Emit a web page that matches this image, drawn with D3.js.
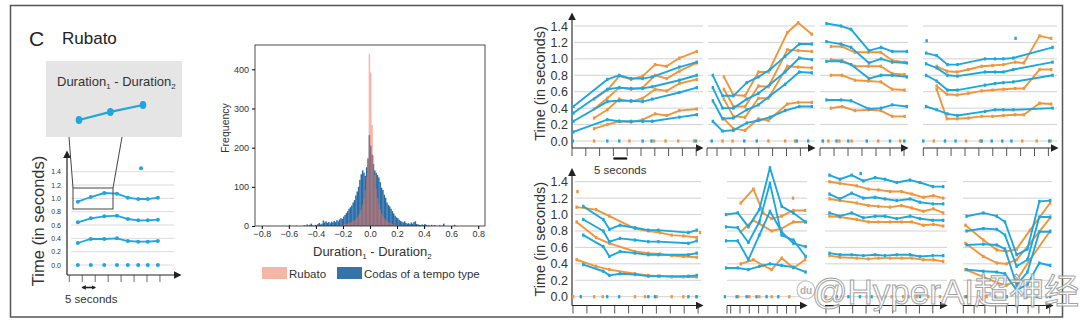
<!DOCTYPE html>
<html>
<head>
<meta charset="utf-8">
<script src="https://cdn.jsdelivr.net/npm/d3@7"></script>
<style>
  body { margin: 0; background: #fff; }
  svg { display: block; font-family: "Liberation Sans", Arial, sans-serif; }
</style>
</head>
<body>
<svg id="fig" width="1080" height="324"></svg>
<script>
// ---------- shared ----------
const yTicks = [0, 0.2, 0.4, 0.6, 0.8, 1.0, 1.2, 1.4];
const yTickLabels = ["0.0", "0.2", "0.4", "0.6", "0.8", "1.0", "1.2", "1.4"];

// ---------- rubato example (seconds / inter-onset durations) ----------
const rubatoTimes = [3.3, 8.3, 13.5, 18.4, 22.6, 26.6, 30.3, 34.2];
const rubatoTop = [0.95, 1.02, 1.08, 1.07, 1.01, 0.99, 0.99, 1.01];
const rubatoMid = [0.64, 0.70, 0.73, 0.74, 0.69, 0.67, 0.67, 0.68];
const rubatoLow = [0.33, 0.39, 0.39, 0.40, 0.36, 0.35, 0.35, 0.36];
const rubatoOutlierT = [27.7];
const rubatoOutlierV = [1.45];

// ---------- histogram of Duration1 - Duration2 ----------
const binStart = -0.62;
const binWidth = 0.01;
const codasCounts = [
  0, 0, 3, 0, 0, 0, 0, 1, 0, 0, 0, 0,                 // -0.62 .. -0.51
  0, 2, 0, 4, 1, 3, 6, 2, 0, 3,                       // -0.50 .. -0.41
  2, 5, 8, 4, 6, 14, 9, 12, 8, 10,                    // -0.40 .. -0.31
  7, 11, 9, 13, 10, 15, 12, 17, 20, 18,               // -0.30 .. -0.21
  24, 28, 33, 38, 44, 48, 52, 60, 66, 78,             // -0.20 .. -0.11
  88, 100, 118, 132, 142, 136, 128, 150, 172, 232,    // -0.10 .. -0.01
  205, 182, 158, 142, 136, 130, 124, 112, 98, 92,     //  0.00 ..  0.09
  80, 72, 60, 54, 50, 44, 38, 32, 26, 22,             //  0.10 ..  0.19
  20, 16, 13, 11, 9, 12, 8, 6, 7, 5,                  //  0.20 ..  0.29
  9, 6, 10, 12, 5, 4, 3, 2, 4, 2,                     //  0.30 ..  0.39
  5, 3, 1, 2, 0, 3, 0, 2, 1, 0,                       //  0.40 ..  0.49
  0, 2, 0, 1, 6, 0, 0, 0, 0, 0,                       //  0.50 ..  0.59
  0, 0, 3, 0, 0                                       //  0.60 ..  0.64
];
const rubatoCounts = [
  0, 0, 0, 0, 0, 0, 0, 0, 0, 0, 0, 0,
  0, 0, 0, 0, 0, 2, 0, 3, 0, 0,
  0, 0, 0, 0, 0, 0, 0, 0, 0, 0,
  1, 0, 1, 0, 2, 1, 2, 1, 3, 2,
  4, 5, 6, 6, 8, 9, 11, 13, 15, 18,
  22, 28, 34, 42, 55, 70, 92, 125, 175, 440,
  392, 258, 180, 130, 95, 72, 55, 42, 32, 25,
  20, 16, 13, 10, 8, 7, 5, 4, 3, 3,
  2, 2, 1, 1, 0, 1, 0, 0, 0, 0,
  0, 0, 0, 0, 0, 0, 0, 0, 0, 0,
  0, 0, 0, 0, 0, 0, 0, 0, 0, 0,
  0, 0, 0, 0, 0, 0, 0, 0, 0, 0,
  0, 0, 0, 0, 0
];
const histXTicks = [-0.8, -0.6, -0.4, -0.2, 0.0, 0.2, 0.4, 0.6, 0.8];
const histYTicks = [0, 100, 200, 300, 400];
const legendLabels = ["Rubato", "Codas of a tempo type"];

// ---------- codas: row 1 ----------
const r1c1BlueT = [0.5, 12.8, 17.1, 21.4, 25.6, 29.1, 38.9, 45.2];
const r1c1Blue = [
  [0.42, 0.75, 0.80, 0.76, 0.76, 0.78, 0.90, 0.96],
  [0.34, 0.63, 0.65, 0.64, 0.64, 0.66, 0.74, 0.80],
  [0.24, 0.48, 0.49, 0.49, 0.48, 0.51, 0.59, 0.65],
  [0.11, 0.26, 0.24, 0.24, 0.24, 0.24, 0.29, 0.32]
];
const r1c1OrangeT = [8.0, 12.8, 17.1, 21.4, 25.6, 30.1, 34.3, 38.9, 45.2];
const r1c1Orange = [
  [0.51, 0.62, 0.79, 0.75, 0.79, 0.93, 0.91, 1.01, 1.09],
  [0.39, 0.52, 0.65, 0.63, 0.65, 0.80, 0.76, 0.85, 0.95],
  [0.28, 0.38, 0.51, 0.48, 0.52, 0.63, 0.61, 0.70, 0.75],
  [0.15, 0.20, 0.24, 0.23, 0.26, 0.33, 0.31, 0.37, 0.39]
];
const r1c1OnsetBlue = [0.3, 12.8, 17.1, 25.6, 28.8, 44.9];
const r1c1OnsetOrange = [8.0, 20.8, 29.7, 33.9, 38.5, 44.2];

const r1c2BlueT = [-1.5, 2.0, 5.9, 10.7, 14.9, 19.1, 24.5, 29.6, 34.1];
const r1c2Blue = [
  [0.80, 0.55, 0.55, 0.71, 0.78, 0.87, 1.03, 1.18, 1.18],
  [0.65, 0.40, 0.40, 0.51, 0.58, 0.69, 0.84, 1.01, 0.99],
  [0.49, 0.27, 0.28, 0.38, 0.44, 0.55, 0.69, 0.84, 0.83],
  [0.24, 0.12, 0.13, 0.22, 0.25, 0.29, 0.37, 0.42, 0.42]
];
const r1c2OrangeT = [2.5, 5.9, 10.1, 14.9, 18.5, 25.3, 29.2, 34.1];
const r1c2Orange = [
  [0.78, 0.56, 0.55, 0.84, 0.84, 1.32, 1.44, 1.30],
  [0.63, 0.42, 0.42, 0.67, 0.66, 1.11, 1.10, 1.09],
  [0.51, 0.30, 0.29, 0.52, 0.52, 0.91, 0.90, 0.89],
  [0.27, 0.15, 0.13, 0.27, 0.25, 0.45, 0.47, 0.47]
];
const r1c2OnsetBlue = [-1.9, 9.8, 14.3, 28.7, 32.8];
const r1c2OnsetOrange = [2.0, 5.6, 18.5, 24.5, 28.1];

const r1c3BlueT = [2.3, 7.5, 11.1, 17.5, 21.8, 25.8, 31.0];
const r1c3Blue = [
  [1.43, 1.40, 1.36, 1.10, 1.14, 1.09, 1.09],
  [1.21, 1.18, 1.14, 0.95, 1.00, 0.96, 0.95],
  [0.97, 0.97, 0.93, 0.76, 0.80, 0.80, 0.78],
  [0.50, 0.50, 0.49, 0.39, 0.40, 0.44, 0.42]
];
const r1c3OrangeT = [3.9, 7.9, 12.5, 17.3, 21.7, 25.8, 30.2];
const r1c3Orange = [
  [1.15, 1.15, 1.08, 1.08, 1.08, 0.98, 0.96],
  [0.99, 0.98, 0.91, 0.91, 0.91, 0.82, 0.81],
  [0.80, 0.80, 0.74, 0.73, 0.72, 0.63, 0.62],
  [0.40, 0.42, 0.37, 0.38, 0.37, 0.30, 0.30]
];
const r1c3OnsetBlue = [1.0, 5.9, 10.1, 16.7, 25.0, 30.1];
const r1c3OnsetOrange = [3.0, 6.9, 11.3, 20.8, 28.6];

const r1c4BlueT = [1.0, 4.8, 8.7, 12.3, 22.2, 25.8, 28.8, 32.4, 46.5];
const r1c4Blue = [
  [1.07, 1.04, 0.93, 0.93, 1.00, 1.00, 1.00, 1.01, 1.14],
  [0.94, 0.89, 0.80, 0.79, 0.84, 0.84, 0.84, 0.87, 0.96],
  [0.80, 0.73, 0.62, 0.62, 0.68, 0.70, 0.71, 0.72, 0.80],
  [0.42, 0.38, 0.33, 0.31, 0.36, 0.38, 0.38, 0.38, 0.40]
];
const r1c4OrangeT = [4.8, 8.5, 12.2, 16.2, 21.0, 24.9, 28.8, 33.0, 36.2, 41.8, 46.0];
const r1c4Orange = [
  [0.91, 0.85, 0.84, 0.87, 0.91, 0.92, 0.93, 0.96, 0.95, 1.28, 1.25],
  [0.67, 0.57, 0.56, 0.58, 0.61, 0.62, 0.63, 0.64, 0.64, 0.87, 0.87],
  [0.63, 0.27, 0.27, 0.28, 0.30, 0.30, 0.31, 0.32, 0.32, 0.46, 0.45]
];
const r1c4BlueDotT = [1.2, 33.2];
const r1c4BlueDotV = [1.22, 1.25];
const r1c4OnsetBlue = [0.0, 7.8, 11.6, 21.0, 24.6, 28.4, 31.7, 45.3];
const r1c4OnsetOrange = [3.8, 15.4, 20.4, 35.6, 40.8, 45.8];

// ---------- codas: row 2 ----------
const r2c1BlueT = [3.7, 10.9, 13.1, 16.9, 22.3, 27.1, 30.7, 41.5, 44.5];
const r2c1Blue = [
  [1.10, 0.94, 0.82, 0.87, 0.84, 0.81, 0.81, 0.78, 0.81],
  [0.94, 0.80, 0.67, 0.71, 0.69, 0.67, 0.67, 0.65, 0.68],
  [0.75, 0.61, 0.49, 0.55, 0.53, 0.51, 0.51, 0.51, 0.53],
  [0.39, 0.31, 0.26, 0.28, 0.27, 0.25, 0.25, 0.25, 0.26]
];
const r2c1OrangeT = [1.3, 8.3, 13.1, 22.3, 27.1, 31.3, 35.5, 39.7, 44.5];
const r2c1Orange = [
  [1.09, 1.06, 0.98, 0.83, 0.80, 0.78, 0.75, 0.74, 0.72],
  [0.91, 0.72, 0.65, 0.55, 0.53, 0.52, 0.50, 0.49, 0.48],
  [0.45, 0.37, 0.33, 0.28, 0.26, 0.25, 0.24, 0.24, 0.24]
];
const r2c1OrangeDotT = [1.6, 45.7];
const r2c1OrangeDotV = [1.28, 0.78];
const r2c1OnsetBlue = [2.8, 12.3, 16.6, 27.1, 29.5, 41.5, 44.5];
const r2c1OnsetOrange = [0.1, 7.6, 10.7, 22.3, 25.9, 30.1, 35.5, 39.7, 44.3];

const r2c2BlueT = [-2.5, 3.8, 9.5, 15.4, 21.1, 27.4, 33.7, 40.3];
const r2c2Blue = [
  [1.00, 1.02, 0.85, 1.06, 1.57, 1.10, 1.02, 0.91],
  [0.85, 0.84, 0.66, 0.91, 1.38, 0.75, 0.69, 0.49],
  [0.68, 0.68, 0.45, 0.75, 1.04, 0.79, 0.65, 0.61],
  [0.35, 0.35, 0.33, 0.37, 0.40, 0.38, 0.36, 0.30]
];
const r2c2OrangeT = [5.4, 12.2, 17.5, 22.0, 27.4, 33.7, 40.0];
const r2c2Orange = [
  [1.14, 1.31, 1.02, 0.95, 0.98, 1.05, 1.05],
  [0.79, 0.93, 0.86, 0.80, 0.83, 0.91, 0.91],
  [0.40, 0.45, 0.38, 0.33, 0.47, 0.35, 0.45]
];
const r2c2OrangeDotT = [33.5];
const r2c2OrangeDotV = [1.20];
const r2c2OnsetBlue = [-3.1, 3.2, 8.6, 13.9, 19.3, 25.6];
const r2c2OnsetOrange = [4.1, 10.0, 15.4, 22.0, 31.5];

const r2c3BlueT = [1.3, 5.2, 9.6, 14.0, 18.4, 22.1, 26.5, 31.5, 35.2, 40.0, 43.9];
const r2c3Blue = [
  [1.48, 1.43, 1.48, 1.41, 1.45, 1.43, 1.39, 1.42, 1.39, 1.34, 1.34],
  [1.25, 1.19, 1.26, 1.20, 1.21, 1.19, 1.17, 1.19, 1.15, 1.13, 1.13],
  [1.02, 0.98, 1.02, 0.96, 0.98, 0.98, 0.95, 0.98, 0.95, 0.93, 0.93],
  [0.53, 0.51, 0.51, 0.50, 0.51, 0.50, 0.51, 0.51, 0.49, 0.50, 0.50]
];
const r2c3OrangeT = [1.3, 5.2, 11.5, 15.9, 19.6, 24.0, 28.3, 32.1, 36.5, 40.2, 43.9];
const r2c3Orange = [
  [1.40, 1.38, 1.35, 1.31, 1.30, 1.28, 1.28, 1.25, 1.21, 1.23, 1.20],
  [1.19, 1.17, 1.14, 1.11, 1.10, 1.09, 1.11, 1.08, 1.04, 1.07, 1.02],
  [0.98, 0.97, 0.94, 0.91, 0.91, 0.91, 0.91, 0.91, 0.87, 0.88, 0.86],
  [0.50, 0.48, 0.47, 0.46, 0.47, 0.47, 0.47, 0.47, 0.45, 0.45, 0.43]
];
const r2c3BlueDotT = [13.0];
const r2c3BlueDotV = [1.50];
const r2c3OnsetBlue = [4.0, 8.4, 12.7, 17.1, 22.1, 30.8, 35.2];
const r2c3OnsetOrange = [0.0, 5.9, 15.2, 19.6, 24.6, 28.9, 34.0, 38.3, 42.7];

const r2c4BlueT = [1.5, 9.3, 15.5, 19.3, 24.7, 29.7, 35.2, 40.2];
const r2c4Blue = [
  [0.98, 1.02, 0.98, 0.91, 0.51, 0.58, 1.16, 1.17],
  [0.80, 0.83, 0.82, 0.75, 0.37, 0.45, 0.97, 0.97],
  [0.63, 0.64, 0.63, 0.58, 0.14, 0.30, 0.79, 0.79],
  [0.33, 0.31, 0.30, 0.28, 0.08, 0.15, 0.41, 0.38]
];
const r2c4OrangeT = [1.0, 9.3, 15.5, 20.0, 24.7, 30.9, 40.2];
const r2c4Orange = [
  [0.87, 0.69, 0.57, 0.55, 0.58, 0.81, 1.14],
  [0.65, 0.49, 0.41, 0.40, 0.45, 0.65, 0.96],
  [0.33, 0.24, 0.17, 0.14, 0.20, 0.45, 0.80]
];
const r2c4OnsetBlue = [1.5, 6.9, 14.7, 20.1, 29.4, 34.0, 40.2];
const r2c4OnsetOrange = [0.8, 10.8, 20.1, 24.7, 38.6];

// ---------- drawing ----------
const BLUE = "#1ea6de";
const ORANGE = "#f0953a";
const GRID = "#d2d2d2";
const svg = d3.select("#fig");

const defs = svg.append("defs");
function arrowHead(id, size) {
  defs.append("marker")
    .attr("id", id).attr("viewBox", "0 0 10 10")
    .attr("refX", 8).attr("refY", 5)
    .attr("markerWidth", size).attr("markerHeight", size)
    .attr("markerUnits", "userSpaceOnUse")
    .attr("orient", "auto-start-reverse")
    .append("path").attr("d", "M0,0L10,5L0,10z").attr("fill", "#222");
}
arrowHead("arrow", 8);
arrowHead("arrowSmall", 4.5);

// outer frame
svg.append("rect").attr("x", 10.5).attr("y", 5.5).attr("width", 1052).attr("height", 311.5)
  .attr("fill", "none").attr("stroke", "#555").attr("stroke-width", 1.5);

// ===== left: rubato illustration =====
svg.append("text").attr("x", 29).attr("y", 46).attr("font-size", 21).attr("fill", "#222").text("C");
svg.append("text").attr("x", 62).attr("y", 44).attr("font-size", 17).attr("fill", "#222").text("Rubato");

const lx = d3.scaleLinear().domain([0, 5]).range([69.3, 82.25]);
const ly = d3.scaleLinear().domain([0, 1.4]).range([265, 171.7]);
const left = svg.append("g");

left.selectAll("line.grid").data(yTicks).join("line")
  .attr("x1", 71).attr("x2", 174).attr("y1", d => ly(d)).attr("y2", d => ly(d))
  .attr("stroke", GRID).attr("stroke-width", 0.8);
left.selectAll("text.yl").data(yTicks).join("text")
  .attr("x", 61).attr("y", d => ly(d) + 2.5).attr("text-anchor", "end")
  .attr("font-size", 7).attr("fill", "#333").text((d, i) => yTickLabels[i]);
left.append("line").attr("x1", 67).attr("x2", 67).attr("y1", 275).attr("y2", 152)
  .attr("stroke", "#222").attr("stroke-width", 1.2).attr("marker-end", "url(#arrow)");
left.append("line").attr("x1", 67).attr("x2", 180).attr("y1", 275).attr("y2", 275)
  .attr("stroke", "#222").attr("stroke-width", 1.2).attr("marker-end", "url(#arrow)");
left.selectAll("line.tk").data(d3.range(0, 36, 5)).join("line")
  .attr("x1", d => lx(d)).attr("x2", d => lx(d)).attr("y1", 275).attr("y2", 282)
  .attr("stroke", "#444").attr("stroke-width", 0.8);
left.append("text").attr("transform", "translate(44,221) rotate(-90)")
  .attr("text-anchor", "middle").attr("font-size", 16.5).attr("fill", "#333").text("Time (in seconds)");

const lline = d3.line().x(d => lx(d[0])).y(d => ly(d[1]));
[rubatoTop, rubatoMid, rubatoLow].forEach(vals => {
  const pts = rubatoTimes.map((t, i) => [t, vals[i]]);
  left.append("path").attr("d", lline(pts)).attr("fill", "none")
    .attr("stroke", BLUE).attr("stroke-width", 1.8);
  left.selectAll(null).data(pts).join("circle")
    .attr("cx", d => lx(d[0])).attr("cy", d => ly(d[1])).attr("r", 2).attr("fill", BLUE);
});
left.selectAll(null).data(rubatoTimes).join("circle")
  .attr("cx", d => lx(d)).attr("cy", ly(0)).attr("r", 2).attr("fill", BLUE);
left.selectAll(null).data(rubatoOutlierT).join("circle")
  .attr("cx", d => lx(d)).attr("cy", (d, i) => ly(rubatoOutlierV[i])).attr("r", 2).attr("fill", BLUE);

// 5 s scale bar
left.append("line").attr("x1", lx(5)).attr("x2", lx(10)).attr("y1", 287.5).attr("y2", 287.5)
  .attr("stroke", "#222").attr("stroke-width", 1.6)
  .attr("marker-end", "url(#arrowSmall)").attr("marker-start", "url(#arrowSmall)");
left.append("text").attr("x", 65).attr("y", 303).attr("font-size", 11.5).attr("fill", "#333").text("5 seconds");

// zoom box around the first three intervals
left.append("rect").attr("x", 73).attr("y", 188).attr("width", 40).attr("height", 21)
  .attr("fill", "none").attr("stroke", "#444").attr("stroke-width", 1);
left.append("rect").attr("x", 46).attr("y", 61).attr("width", 136).attr("height", 76).attr("fill", "#e5e5e5");
left.append("line").attr("x1", 69).attr("y1", 137).attr("x2", 73).attr("y2", 188).attr("stroke", "#444").attr("stroke-width", 1);
left.append("line").attr("x1", 122).attr("y1", 137).attr("x2", 113).attr("y2", 188).attr("stroke", "#444").attr("stroke-width", 1);
const dText = left.append("text").attr("x", 57).attr("y", 86).attr("font-size", 13).attr("fill", "#333");
dText.append("tspan").text("Duration");
dText.append("tspan").attr("font-size", 8).attr("dy", 3).text("1");
dText.append("tspan").attr("dy", -3).text(" - Duration");
dText.append("tspan").attr("font-size", 8).attr("dy", 3).text("2");

const ix = d3.scaleLinear().domain([rubatoTimes[0], rubatoTimes[2]]).range([79, 143]);
const iy = d3.scaleLinear().domain([0.95, 1.08]).range([120, 105]);
const inset = rubatoTimes.slice(0, 3).map((t, i) => [t, rubatoTop[i]]);
left.append("path").attr("d", d3.line().x(d => ix(d[0])).y(d => iy(d[1]))(inset))
  .attr("fill", "none").attr("stroke", BLUE).attr("stroke-width", 2.2);
left.selectAll(null).data(inset).join("ellipse")
  .attr("cx", d => ix(d[0])).attr("cy", d => iy(d[1])).attr("rx", 3.3).attr("ry", 4).attr("fill", BLUE);

// ===== middle: histogram =====
const hx = d3.scaleLinear().domain([-0.85, 0.85]).range([255, 485]);
const hy = d3.scaleLinear().domain([0, 462]).range([226, 45]);
const hist = svg.append("g");
const bins = counts => counts.map((c, i) => ({ x0: binStart + i * binWidth, x1: binStart + (i + 1) * binWidth, c }));

hist.selectAll("rect.codas").data(bins(codasCounts).filter(d => d.c > 0)).join("rect")
  .attr("x", d => hx(d.x0)).attr("width", d => hx(d.x1) - hx(d.x0) + 0.15)
  .attr("y", d => hy(d.c)).attr("height", d => hy(0) - hy(d.c))
  .attr("fill", "#2a6ca6");
hist.selectAll("rect.rub").data(bins(rubatoCounts).filter(d => d.c > 0)).join("rect")
  .attr("x", d => hx(d.x0)).attr("width", d => hx(d.x1) - hx(d.x0) + 0.15)
  .attr("y", d => hy(d.c)).attr("height", d => hy(0) - hy(d.c))
  .attr("fill", "#ee7458").attr("fill-opacity", 0.5);

hist.append("rect").attr("x", 255).attr("y", 45).attr("width", 230).attr("height", 181)
  .attr("fill", "none").attr("stroke", "#222").attr("stroke-width", 0.8);
hist.append("g").attr("transform", "translate(0,226)")
  .call(d3.axisBottom(hx).tickValues(histXTicks).tickSize(3).tickFormat(d3.format(".1f")))
  .call(g => g.select(".domain").remove())
  .call(g => g.selectAll("text").attr("font-size", 9).attr("font-family", "'Liberation Sans', Arial").attr("fill", "#333").attr("dy", "0.6em"));
hist.append("g").attr("transform", "translate(255,0)")
  .call(d3.axisLeft(hy).tickValues(histYTicks).tickSize(3))
  .call(g => g.select(".domain").remove())
  .call(g => g.selectAll("text").attr("font-size", 9).attr("font-family", "'Liberation Sans', Arial").attr("fill", "#333"));
hist.append("text").attr("transform", "translate(229,128) rotate(-90)").attr("text-anchor", "middle")
  .attr("font-size", 10.5).attr("fill", "#333").text("Frequency");
const hText = hist.append("text").attr("x", 313).attr("y", 256).attr("font-size", 13).attr("fill", "#333");
hText.append("tspan").text("Duration");
hText.append("tspan").attr("font-size", 8).attr("dy", 3).text("1");
hText.append("tspan").attr("dy", -3).text(" - Duration");
hText.append("tspan").attr("font-size", 8).attr("dy", 3).text("2");

const legendX = [262, 337];
const legendFill = ["#f6b6a6", "#3574ab"];
hist.selectAll("rect.leg").data(legendLabels).join("rect")
  .attr("x", (d, i) => legendX[i]).attr("y", 267).attr("width", 25).attr("height", 12)
  .attr("fill", (d, i) => legendFill[i]);
hist.selectAll("text.leg").data(legendLabels).join("text")
  .attr("x", (d, i) => legendX[i] + 27).attr("y", 277.5).attr("font-size", 11.5).attr("fill", "#333").text(d => d);

// ===== right: codas panels =====
const rowY = [
  d3.scaleLinear().domain([0, 1.4]).range([141, 26]),
  d3.scaleLinear().domain([0, 1.4]).range([296.7, 181.7])
];
const axisY = [148, 305.5];

const panels = [
  { row: 0, tick0: 572, pps: 2.76, ax: [572, 702], grid: [574, 703], tmax: 45,
    blueT: r1c1BlueT, blue: r1c1Blue, orangeT: r1c1OrangeT, orange: r1c1Orange,
    onB: r1c1OnsetBlue, onO: r1c1OnsetOrange, yAxis: true },
  { row: 0, tick0: 717, pps: 2.78, ax: [707, 814], grid: [708, 815], tmax: 30,
    blueT: r1c2BlueT, blue: r1c2Blue, orangeT: r1c2OrangeT, orange: r1c2Orange,
    onB: r1c2OnsetBlue, onO: r1c2OnsetOrange },
  { row: 0, tick0: 820, pps: 2.8, ax: [820, 907], grid: [820, 908], tmax: 30,
    blueT: r1c3BlueT, blue: r1c3Blue, orangeT: r1c3OrangeT, orange: r1c3Orange,
    onB: r1c3OnsetBlue, onO: r1c3OnsetOrange },
  { row: 0, tick0: 923.3, pps: 2.78, ax: [923, 1057], grid: [923, 1057], tmax: 45,
    blueT: r1c4BlueT, blue: r1c4Blue, orangeT: r1c4OrangeT, orange: r1c4Orange,
    onB: r1c4OnsetBlue, onO: r1c4OnsetOrange, bDotT: r1c4BlueDotT, bDotV: r1c4BlueDotV },
  { row: 1, tick0: 573, pps: 2.78, ax: [572, 702], grid: [575, 701], tmax: 45,
    blueT: r2c1BlueT, blue: r2c1Blue, orangeT: r2c1OrangeT, orange: r2c1Orange,
    onB: r2c1OnsetBlue, onO: r2c1OnsetOrange, oDotT: r2c1OrangeDotT, oDotV: r2c1OrangeDotV, yAxis: true },
  { row: 1, tick0: 730.7, pps: 1.86, ax: [727, 806], grid: [727, 807], tmax: 35,
    blueT: r2c2BlueT, blue: r2c2Blue, orangeT: r2c2OrangeT, orange: r2c2Orange,
    onB: r2c2OnsetBlue, onO: r2c2OnsetOrange, oDotT: r2c2OrangeDotT, oDotV: r2c2OrangeDotV },
  { row: 1, tick0: 826, pps: 2.67, ax: [825, 946], grid: [825, 947], tmax: 40,
    blueT: r2c3BlueT, blue: r2c3Blue, orangeT: r2c3OrangeT, orange: r2c3Orange,
    onB: r2c3OnsetBlue, onO: r2c3OnsetOrange, bDotT: r2c3BlueDotT, bDotV: r2c3BlueDotV },
  { row: 1, tick0: 963.3, pps: 2.16, ax: [962.7, 1052], grid: [963, 1052], tmax: 40,
    blueT: r2c4BlueT, blue: r2c4Blue, orangeT: r2c4OrangeT, orange: r2c4Orange,
    onB: r2c4OnsetBlue, onO: r2c4OnsetOrange }
];

function markers(g, pts, x, y, color) {
  g.selectAll(null).data(pts).join("rect")
    .attr("x", d => x(d[0]) - 1.2).attr("y", d => y(d[1]) - 1.6)
    .attr("width", 2.4).attr("height", 3.2).attr("fill", color);
}

panels.forEach(p => {
  const g = svg.append("g");
  const x = d3.scaleLinear().domain([0, 1]).range([p.tick0, p.tick0 + p.pps]);
  const y = rowY[p.row];
  const ay = axisY[p.row];

  g.selectAll(null).data(yTicks).join("line")
    .attr("x1", p.grid[0]).attr("x2", p.grid[1]).attr("y1", d => y(d)).attr("y2", d => y(d))
    .attr("stroke", GRID).attr("stroke-width", 1);

  // x axis with 5 s ticks
  g.append("line").attr("x1", p.ax[0]).attr("x2", p.ax[1]).attr("y1", ay).attr("y2", ay)
    .attr("stroke", "#222").attr("stroke-width", 1.1).attr("marker-end", "url(#arrow)");
  g.selectAll(null).data(d3.range(0, p.tmax + 1, 5)).join("line")
    .attr("x1", d => x(d)).attr("x2", d => x(d)).attr("y1", ay).attr("y2", ay + 8)
    .attr("stroke", "#444").attr("stroke-width", 0.9);
  if (p.ax[0] < x(0) - 2) {
    g.append("line").attr("x1", p.ax[0]).attr("x2", p.ax[0]).attr("y1", ay).attr("y2", ay + 8)
      .attr("stroke", "#444").attr("stroke-width", 0.9);
  }

  if (p.yAxis) {
    g.append("line").attr("x1", p.ax[0]).attr("x2", p.ax[0]).attr("y1", ay).attr("y2", y(1.4) - 12)
      .attr("stroke", "#222").attr("stroke-width", 1.1).attr("marker-end", "url(#arrow)");
    g.selectAll(null).data(yTicks).join("text")
      .attr("x", p.ax[0] - 4).attr("y", d => y(d) + 4.5).attr("text-anchor", "end")
      .attr("font-size", 12.5).attr("fill", "#333").text((d, i) => yTickLabels[i]);
    g.append("text").attr("transform", `translate(${p.ax[0] - 27},${(y(0) + y(1.4)) / 2}) rotate(-90)`)
      .attr("text-anchor", "middle").attr("font-size", 14.5).attr("fill", "#333").text("Time (in seconds)");
  }

  const line = d3.line().x(d => x(d[0])).y(d => y(d[1]));
  const series = (times, sets, color) => sets.forEach(vals => {
    const pts = times.map((t, i) => [t, vals[i]]);
    g.append("path").attr("d", line(pts)).attr("fill", "none")
      .attr("stroke", color).attr("stroke-width", 1.9).attr("stroke-linejoin", "round");
    markers(g, pts, x, y, color);
  });
  series(p.orangeT, p.orange, ORANGE);
  series(p.blueT, p.blue, BLUE);

  markers(g, p.onO.map(t => [t, 0]), x, y, ORANGE);
  markers(g, p.onB.map(t => [t, 0]), x, y, BLUE);
  if (p.bDotT) markers(g, p.bDotT.map((t, i) => [t, p.bDotV[i]]), x, y, BLUE);
  if (p.oDotT) markers(g, p.oDotT.map((t, i) => [t, p.oDotV[i]]), x, y, ORANGE);

  if (p.row === 0 && p.yAxis) {
    // 5 s scale bar under the first panel
    g.append("line").attr("x1", x(15)).attr("x2", x(20)).attr("y1", 158.5).attr("y2", 158.5)
      .attr("stroke", "#111").attr("stroke-width", 2.2);
    g.append("text").attr("x", 594).attr("y", 174).attr("font-size", 11.5).attr("fill", "#333").text("5 seconds");
  }
});

// site watermark
const wm = svg.append("g").attr("opacity", 0.9);
wm.append("circle").attr("cx", 806).attr("cy", 290).attr("r", 9).attr("fill", "#fff").attr("stroke", "#bbb").attr("stroke-width", 1.2);
wm.append("text").attr("x", 806).attr("y", 294).attr("text-anchor", "middle").attr("font-size", 10)
  .attr("font-weight", "bold").attr("fill", "#aaa").text("du");
wm.append("text").attr("x", 812).attr("y", 304).attr("font-size", 35)
  .attr("fill", "#fff").attr("fill-opacity", 0.8).attr("stroke", "#9a9a9a").attr("stroke-width", 1)
  .attr("font-family", "'Liberation Sans', 'Noto Sans CJK SC', sans-serif")
  .text("@HyperAI超神经");
</script>
</body>
</html>
